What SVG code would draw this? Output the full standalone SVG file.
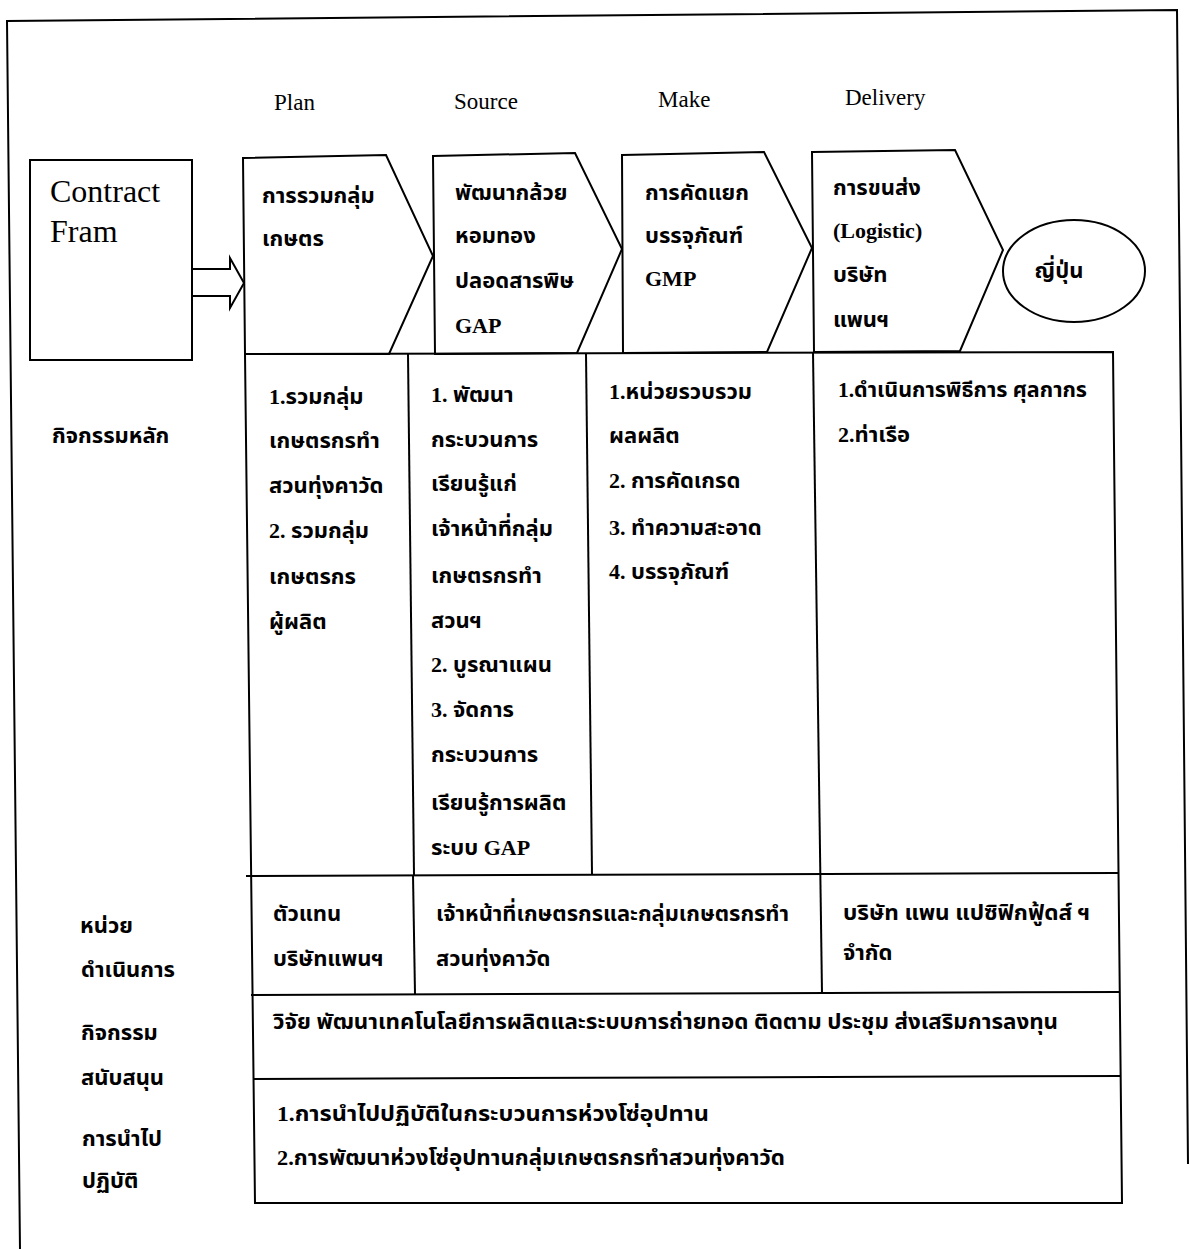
<svg xmlns="http://www.w3.org/2000/svg" width="1190" height="1249" viewBox="0 0 1190 1249">
<style>
.ln{fill:none;stroke:#000;stroke-width:2;stroke-linejoin:miter}
.sh{fill:#fff;stroke:#000;stroke-width:2;stroke-linejoin:miter}
.hd{font-family:"Liberation Serif","Times New Roman",serif;font-size:23px;fill:#000}
.big{font-family:"Liberation Serif","Times New Roman",serif;font-size:32px;fill:#000}
.th{font-family:"Liberation Serif","Noto Sans Thai","Noto Serif Thai",serif;font-size:22px;font-weight:bold;fill:#000}
</style>
<rect width="1190" height="1249" fill="#fff"/>
<g id="frame">
<polyline class="ln" points="20,1249 7,21 1177,10 1188,1164"/>
</g>
<g id="contract-fram">
<rect class="sh" x="30" y="160" width="162" height="200"/>
<text class="big" x="50" y="202">Contract</text>
<text class="big" x="50" y="242">Fram</text>
</g>
<g id="connectors">
<path class="ln" d="M192,269 H230 V258 L244,283 L230,308 V296 H192"/>
</g>
<g id="plan">
<text class="hd" x="274" y="110">Plan</text>
<polygon class="sh" points="243,158 386,155 433,256 389,354 245,354"/>
<text class="th" x="262" y="203">การรวมกลุ่ม</text>
<text class="th" x="262" y="246">เกษตร</text>
</g>
<g id="source">
<text class="hd" x="454" y="109">Source</text>
<polygon class="sh" points="433,156 575,153 622,249 577,353 435,354"/>
<text class="th" x="455" y="200">พัฒนากล้วย</text>
<text class="th" x="455" y="243">หอมทอง</text>
<text class="th" x="455" y="288">ปลอดสารพิษ</text>
<text class="th" x="455" y="333">GAP</text>
</g>
<g id="make">
<text class="hd" x="658" y="107">Make</text>
<polygon class="sh" points="622,155 764,152 812,248 767,352 623,353"/>
<text class="th" x="645" y="200">การคัดแยก</text>
<text class="th" x="645" y="243">บรรจุภัณฑ์</text>
<text class="th" x="645" y="286">GMP</text>
</g>
<g id="delivery">
<text class="hd" x="845" y="105">Delivery</text>
<polygon class="sh" points="812,152 955,150 1003,250 960,351 814,352"/>
<text class="th" x="833" y="195">การขนส่ง</text>
<text class="th" x="833" y="238">(Logistic)</text>
<text class="th" x="833" y="282">บริษัท</text>
<text class="th" x="833" y="327">แพนฯ</text>
</g>
<g id="japan">
<ellipse class="sh" cx="1074" cy="271" rx="71" ry="51"/>
<text class="th" x="1059" y="278" text-anchor="middle">ญี่ปุ่น</text>
</g>
<g id="table">
<polyline class="ln" points="245,354 1113,352 1122,1203 255,1203 245,354"/>
<line class="ln" x1="246" y1="876" x2="1118" y2="873"/>
<line class="ln" x1="251" y1="995" x2="1120" y2="992"/>
<line class="ln" x1="253" y1="1079" x2="1121" y2="1076"/>
<line class="ln" x1="408" y1="354" x2="414" y2="875"/>
<line class="ln" x1="586" y1="353" x2="592" y2="874"/>
<line class="ln" x1="813" y1="352" x2="822" y2="993"/>
<line class="ln" x1="413" y1="875" x2="415" y2="994"/>
</g>
<g id="main-activities">
<text class="th" x="269" y="404">1.รวมกลุ่ม</text>
<text class="th" x="269" y="448">เกษตรกรทำ</text>
<text class="th" x="269" y="493">สวนทุ่งคาวัด</text>
<text class="th" x="269" y="538">2. รวมกลุ่ม</text>
<text class="th" x="269" y="584">เกษตรกร</text>
<text class="th" x="269" y="629">ผู้ผลิต</text>
<text class="th" x="431" y="402">1. พัฒนา</text>
<text class="th" x="431" y="447">กระบวนการ</text>
<text class="th" x="431" y="491">เรียนรู้แก่</text>
<text class="th" x="431" y="536">เจ้าหน้าที่กลุ่ม</text>
<text class="th" x="431" y="583">เกษตรกรทำ</text>
<text class="th" x="431" y="628">สวนฯ</text>
<text class="th" x="431" y="672">2. บูรณาแผน</text>
<text class="th" x="431" y="717">3. จัดการ</text>
<text class="th" x="431" y="762">กระบวนการ</text>
<text class="th" x="431" y="810">เรียนรู้การผลิต</text>
<text class="th" x="431" y="855">ระบบ GAP</text>
<text class="th" x="609" y="399">1.หน่วยรวบรวม</text>
<text class="th" x="609" y="443">ผลผลิต</text>
<text class="th" x="609" y="488">2. การคัดเกรด</text>
<text class="th" x="609" y="535">3. ทำความสะอาด</text>
<text class="th" x="609" y="579">4. บรรจุภัณฑ์</text>
<text class="th" x="838" y="397" textLength="249" lengthAdjust="spacingAndGlyphs">1.ดำเนินการพิธีการ ศุลกากร</text>
<text class="th" x="838" y="442">2.ท่าเรือ</text>
</g>
<g id="operators">
<text class="th" x="273" y="921">ตัวแทน</text>
<text class="th" x="273" y="966">บริษัทแพนฯ</text>
<text class="th" x="436" y="921" textLength="353" lengthAdjust="spacingAndGlyphs">เจ้าหน้าที่เกษตรกรและกลุ่มเกษตรกรทำ</text>
<text class="th" x="436" y="966">สวนทุ่งคาวัด</text>
<text class="th" x="843" y="920" textLength="247" lengthAdjust="spacingAndGlyphs">บริษัท แพน แปซิฟิกฟู้ดส์ ฯ</text>
<text class="th" x="843" y="960">จำกัด</text>
</g>
<g id="support">
<text class="th" x="273" y="1029" textLength="785" lengthAdjust="spacingAndGlyphs">วิจัย พัฒนาเทคโนโลยีการผลิตและระบบการถ่ายทอด ติดตาม ประชุม ส่งเสริมการลงทุน</text>
</g>
<g id="implementation">
<text class="th" x="277" y="1121" textLength="432" lengthAdjust="spacingAndGlyphs">1.การนำไปปฏิบัติในกระบวนการห่วงโซ่อุปทาน</text>
<text class="th" x="277" y="1165" textLength="508" lengthAdjust="spacingAndGlyphs">2.การพัฒนาห่วงโซ่อุปทานกลุ่มเกษตรกรทำสวนทุ่งคาวัด</text>
</g>
<g id="row-labels">
<text class="th" x="52" y="443">กิจกรรมหลัก</text>
<text class="th" x="80" y="933">หน่วย</text>
<text class="th" x="81" y="977">ดำเนินการ</text>
<text class="th" x="81" y="1040">กิจกรรม</text>
<text class="th" x="81" y="1085">สนับสนุน</text>
<text class="th" x="82" y="1146">การนำไป</text>
<text class="th" x="82" y="1188">ปฏิบัติ</text>
</g>
</svg>
